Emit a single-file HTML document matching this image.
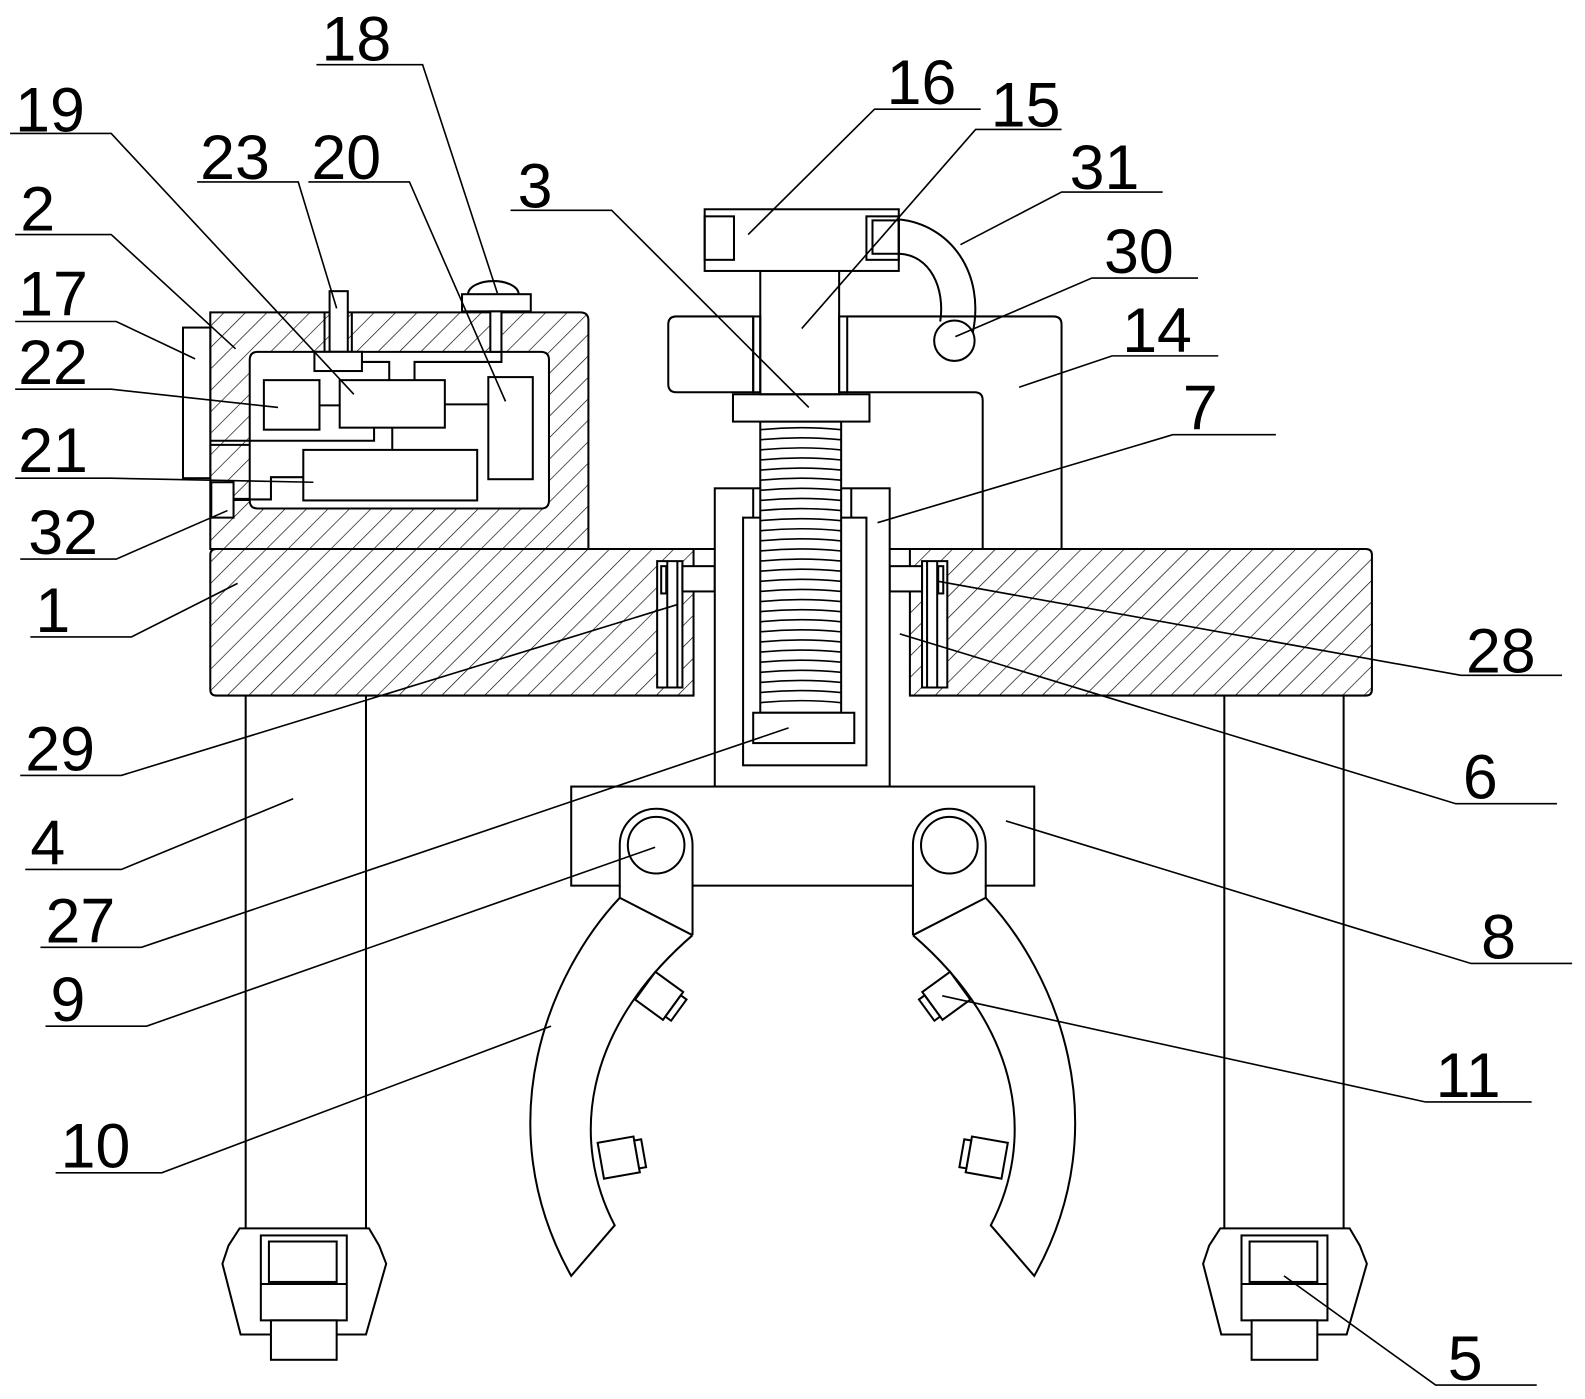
<!DOCTYPE html>
<html><head><meta charset="utf-8"><style>
html,body{margin:0;padding:0;background:#fff}
svg{display:block}
text{font-family:"Liberation Sans",sans-serif;font-size:62px;fill:#000}
</style></head><body>
<svg width="1585" height="1399" viewBox="0 0 1585 1399" xmlns="http://www.w3.org/2000/svg">
<defs>
<pattern id="h" width="15" height="15" patternUnits="userSpaceOnUse" patternTransform="rotate(45)">
<line x1="0" y1="0" x2="0" y2="15" stroke="#000" stroke-width="1.3"/>
</pattern>
</defs>
<g transform="scale(1.011)" fill="none" stroke="#000" stroke-width="2">
<!-- Box 2 -->
<path fill="url(#h)" fill-rule="evenodd" d="M208,309 H574 Q582,309 582,317 V543 H208 Z M255,348 H535 Q543,348 543,356 V495 Q543,503 535,503 H255 Q247,503 247,495 V356 Q247,348 255,348 Z"/>
<rect x="181" y="324" width="27" height="149" fill="#fff"/>
<rect x="326" y="288" width="18" height="60" fill="#fff"/>
<line x1="321" y1="309" x2="321" y2="348"/><line x1="348" y1="309" x2="348" y2="348"/>
<rect x="311" y="348" width="47" height="19" fill="#fff"/>
<path d="M463,291 A25,13 0 0 1 513,291" fill="#fff"/>
<rect x="457" y="291" width="68" height="17" fill="#fff"/>
<rect x="485" y="308" width="11" height="40" fill="#fff"/>
<path d="M496,348 V358 H410 V376"/>
<path d="M358,358 H385 V376"/>
<rect x="261" y="376" width="55" height="49"/>
<rect x="336" y="376" width="104" height="47"/>
<rect x="483" y="373" width="44" height="101"/>
<rect x="300" y="445" width="172" height="50"/>
<line x1="316" y1="401" x2="336" y2="401"/>
<line x1="440" y1="400" x2="483" y2="400"/>
<line x1="388" y1="423" x2="388" y2="445"/>
<path d="M370,423 V436 H208"/><path d="M208,440 H247"/>
<path d="M300,472 H268 V494 H247"/>
<rect x="209" y="477" width="22" height="35" fill="#fff"/>
<line x1="231" y1="494" x2="247" y2="494" stroke-width="3"/>
<!-- Plate 1 -->
<path fill="url(#h)" fill-rule="evenodd" d="M214,543 H686 V688 H214 Q208,688 208,682 V549 Q208,543 214,543 Z M650,555 H675 V680 H650 Z"/>
<path fill="url(#h)" fill-rule="evenodd" d="M900,543 H1351 Q1357,543 1357,549 V682 Q1357,688 1351,688 H900 Z M912,555 H937 V680 H912 Z"/>
<line x1="686" y1="543" x2="707" y2="543"/><line x1="880" y1="543" x2="900" y2="543"/>
<line x1="660" y1="555" x2="660" y2="680"/><line x1="670" y1="555" x2="670" y2="680"/>
<rect x="654" y="560" width="5" height="27"/>
<line x1="927" y1="555" x2="927" y2="680"/><line x1="917" y1="555" x2="917" y2="680"/>
<rect x="928" y="560" width="5" height="27"/>
<rect x="675" y="560" width="32" height="25" fill="#fff"/>
<rect x="880" y="560" width="32" height="25" fill="#fff"/>
<!-- Column 7 -->
<rect x="707" y="483" width="173" height="295" fill="#fff"/>
<rect x="735" y="512" width="122" height="245"/>
<line x1="745" y1="483" x2="745" y2="512"/><line x1="842" y1="483" x2="842" y2="512"/>
<rect x="752" y="417" width="80" height="288" fill="#fff"/>
<g stroke-width="1.6">
<path d="M752,425 Q792,421 832,425 M752,435 Q792,431 832,435 M752,445 Q792,441 832,445 M752,455 Q792,451 832,455 M752,465 Q792,461 832,465 M752,475 Q792,471 832,475 M752,485 Q792,481 832,485 M752,495 Q792,491 832,495 M752,505 Q792,501 832,505 M752,515 Q792,511 832,515 M752,525 Q792,521 832,525 M752,535 Q792,531 832,535 M752,545 Q792,541 832,545 M752,555 Q792,551 832,555 M752,565 Q792,561 832,565 M752,575 Q792,571 832,575 M752,585 Q792,581 832,585 M752,595 Q792,591 832,595 M752,605 Q792,601 832,605 M752,615 Q792,611 832,615 M752,625 Q792,621 832,625 M752,635 Q792,631 832,635 M752,645 Q792,641 832,645 M752,655 Q792,651 832,655 M752,665 Q792,661 832,665 M752,675 Q792,671 832,675 M752,685 Q792,681 832,685 M752,695 Q792,691 832,695"/>
</g>
<rect x="745" y="705" width="100" height="30" fill="#fff"/>
<!-- top assembly -->
<rect x="725" y="390" width="135" height="27" fill="#fff"/>
<rect x="752" y="268" width="78" height="122"/>
<path d="M669,313 H745 V388 H669 Q661,388 661,380 V321 Q661,313 669,313 Z"/>
<rect x="745" y="313" width="7" height="75"/><rect x="830" y="313" width="8" height="75"/>
<path d="M838,313 H1042 Q1050,313 1050,321 V543"/>
<path d="M838,388 H964 Q972,388 972,396 V543"/>
<rect x="697" y="207" width="192" height="61" fill="#fff"/>
<rect x="697" y="214" width="29" height="43"/>
<rect x="857" y="214" width="32" height="43"/>
<rect x="863" y="218" width="26" height="33"/>
<path d="M889,217 C940,222 975,270 962,330"/>
<path d="M889,251 C920,252 935,285 930,318"/>
<circle cx="944" cy="337" r="20" fill="#fff"/>
<!-- legs -->
<line x1="243" y1="688" x2="243" y2="1215"/><line x1="362" y1="688" x2="362" y2="1215"/>
<line x1="1211" y1="688" x2="1211" y2="1215"/><line x1="1329" y1="688" x2="1329" y2="1215"/>
<g id="foot">
<path d="M237,1215 L365,1215 L375,1232 L382,1250 L362,1320 L238,1320 L220,1250 L226,1232 Z"/>
<rect x="258" y="1222" width="85" height="84"/>
<rect x="266" y="1228" width="67" height="40"/>
<line x1="258" y1="1270" x2="343" y2="1270"/>
<rect x="268" y="1306" width="65" height="39" fill="#fff"/>
</g>
<use href="#foot" x="970"/>
<!-- crossbar 8 -->
<rect x="565" y="778" width="458" height="98" fill="#fff"/>
<g id="jaw">
<path d="M613,876 V836 A36,36 0 0 1 685,836 V925 Z" fill="#fff" stroke="none"/>
<path d="M613,888 V836 A36,36 0 0 1 685,836 V925"/>
<circle cx="649" cy="836" r="28"/>
<path d="M613,888 C545,960 480,1110 565,1262 L608,1212 C565,1130 575,1020 685,925" fill="#fff"/>
<path d="M613,888 L685,925"/>
<g transform="rotate(36 652 985)"><rect x="635" y="968" width="34" height="34" fill="#fff"/><rect x="669" y="972" width="7" height="26" fill="#fff"/></g>
<g transform="rotate(-10 612 1145)"><rect x="594" y="1127" width="36" height="36" fill="#fff"/><rect x="630" y="1131" width="7" height="28" fill="#fff"/></g>
</g>
<use href="#jaw" transform="translate(1588 0) scale(-1 1)"/>
<!-- leaders -->
<g stroke-width="1.6">
<path d="M313,64 H418 L492,290"/>
<path d="M10,132 H110 L350,390"/>
<path d="M195,180 H295 L333,305"/>
<path d="M305,180 H405 L500,397"/>
<path d="M15,232 H110 L233,345"/>
<path d="M15,318 H115 L193,355"/>
<path d="M15,385 H110 L275,403"/>
<path d="M15,473 H110 L310,477"/>
<path d="M20,553 H115 L225,505"/>
<path d="M30,630 H130 L235,577"/>
<path d="M20,767 H120 L670,598"/>
<path d="M25,860 H120 L290,790"/>
<path d="M40,937 H140 L780,720"/>
<path d="M45,1015 H145 L648,838"/>
<path d="M55,1160 H160 L545,1015"/>
<path d="M970,108 H865 L740,232"/>
<path d="M1050,128 H965 L793,325"/>
<path d="M1150,190 H1050 L950,242"/>
<path d="M1185,275 H1080 L945,333"/>
<path d="M505,208 H605 L800,403"/>
<path d="M1205,352 H1100 L1008,383"/>
<path d="M1262,430 H1160 L868,517"/>
<path d="M1545,668 H1445 L928,575"/>
<path d="M1540,795 H1440 L890,627"/>
<path d="M1555,953 H1455 L995,812"/>
<path d="M1515,1090 H1410 L932,985"/>
<path d="M1520,1370 H1420 L1270,1262"/>
</g>
</g>
<g transform="scale(1.011)">
<text x="318" y="60">18</text>
<text x="15" y="130">19</text>
<text x="198" y="177">23</text>
<text x="308" y="177">20</text>
<text x="20" y="228">2</text>
<text x="18" y="312">17</text>
<text x="18" y="380">22</text>
<text x="18" y="467">21</text>
<text x="28" y="548">32</text>
<text x="35" y="625">1</text>
<text x="25" y="762">29</text>
<text x="30" y="855">4</text>
<text x="45" y="932">27</text>
<text x="50" y="1010">9</text>
<text x="60" y="1155">10</text>
<text x="877" y="103">16</text>
<text x="980" y="125">15</text>
<text x="1058" y="187">31</text>
<text x="1092" y="270">30</text>
<text x="512" y="205">3</text>
<text x="1110" y="348">14</text>
<text x="1170" y="425">7</text>
<text x="1450" y="665">28</text>
<text x="1447" y="790">6</text>
<text x="1465" y="948">8</text>
<text x="1420" y="1085">11</text>
<text x="1432" y="1365">5</text>
</g>
</svg>
</body></html>
